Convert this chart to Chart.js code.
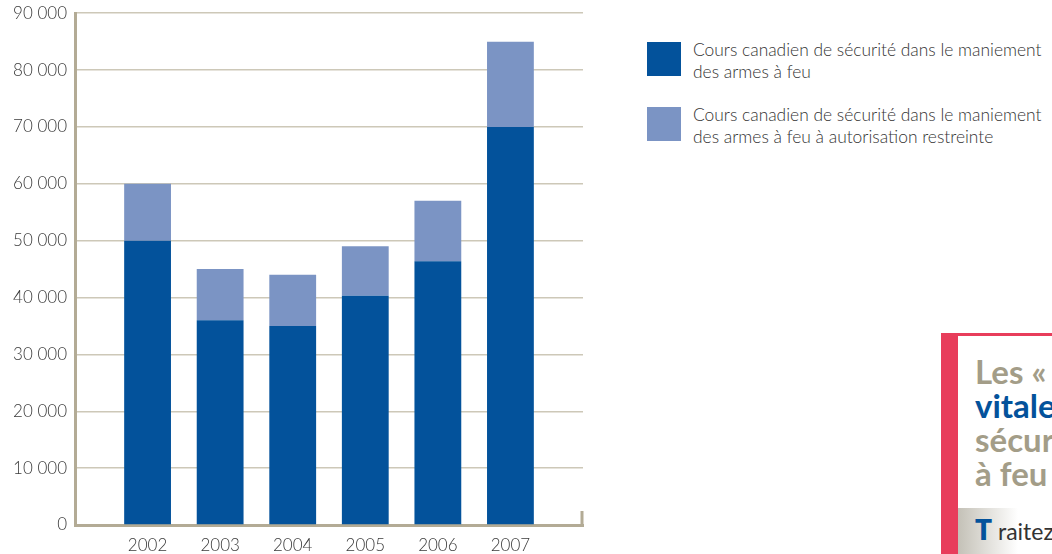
<!DOCTYPE html>
<html>
<head>
<meta charset="utf-8">
<script src="https://cdn.jsdelivr.net/npm/chart.js@4.4.1/dist/chart.umd.min.js"></script>
<style>
  body { margin: 0; background: #fff; width: 1052px; height: 554px; overflow: hidden; position: relative; font-family: "Lato", "Open Sans", sans-serif; }
  #wrap { position: absolute; left: 0; top: -5px; width: 600px; height: 559px; }
  .leg { position: absolute; left: 647px; font-size: 17.4px; font-weight: 300; color: #333; line-height: 22px; }
  .leg .sw { position: absolute; left: 0; top: 3px; width: 34px; height: 34px; }
  .leg .tx { position: absolute; left: 46px; top: 0; width: 420px; white-space: nowrap; }
  #box { position: absolute; left: 941px; top: 333px; width: 111px; height: 221px; border-left: 17px solid #e83d5b; border-top: 3px solid #e83d5b; background: #fff; overflow: hidden; box-sizing: border-box; }
  #box .head { position: absolute; left: 17px; top: 18px; font-size: 33px; line-height: 34px; font-weight: 700; color: #a39d88; white-space: nowrap; }
  #box .head .b { color: #03529b; }
  #box .strip { position: absolute; left: 0; top: 172px; width: 200px; height: 60px; background: linear-gradient(to right, #c4c1b7, #fff 60px); }
  #box .strip span { position: absolute; left: 17px; top: 4px; white-space: nowrap; font-size: 23px; color: #333; }
  #box .strip b { font-size: 28px; color: #03529b; font-weight: 800; }
</style>
</head>
<body>
<div id="wrap"><canvas id="chart" width="600" height="559"></canvas></div>
<div id="legend"></div>
<div id="box">
  <div class="head">Les « <br><span class="b">vitale</span><br>sécur<br>à feu</div>
  <div class="strip"><span><b>T</b> raitez</span></div>
</div>
<script>
// années et valeurs
var years = [2002, 2003, 2004, 2005, 2006, 2007];
var coursArmesFeu = [50000, 36000, 35000, 40300, 46400, 70000];
var coursRestreintes = [10000, 9000, 9000, 8700, 10600, 15000];
var seriesNames = [
    ["Cours canadien de sécurité dans le maniement", "des armes à feu"],
    ["Cours canadien de sécurité dans le maniement", "des armes à feu à autorisation restreinte"]
];
var seriesColors = ["#03529b", "#7b94c4"];
var yTicks = [0, 10000, 20000, 30000, 40000, 50000, 60000, 70000, 80000, 90000];

var gridColor = "#cdc8b8";
var axisColor = "#b3ab95";

function fmt(v) {
    return String(v).replace(/\B(?=(\d{3})+(?!\d))/g, " ");
}

// legende en html
var legendHtml = "";
for (var i = 0; i < seriesNames.length; i++) {
    legendHtml += '<div class="leg" style="top:' + (39 + i * 65) + 'px">' +
        '<div class="sw" style="background:' + seriesColors[i] + '"></div>' +
        '<div class="tx">' + seriesNames[i].join("<br>") + '</div></div>';
}
document.getElementById("legend").innerHTML = legendHtml;

// petit trait vertical au bout de l'axe x
var endTick = {
    id: "endTick",
    afterDraw: function(chart) {
        var ctx = chart.ctx, a = chart.chartArea;
        ctx.save();
        ctx.strokeStyle = axisColor;
        ctx.lineWidth = 3;
        ctx.beginPath();
        ctx.moveTo(a.right - 1, a.bottom);
        ctx.lineTo(a.right - 1, a.bottom - 14);
        ctx.stroke();
        ctx.restore();
    }
};

var ctx = document.getElementById("chart").getContext("2d");
new Chart(ctx, {
    type: "bar",
    data: {
        datasets: [{
            label: seriesNames[0].join(" "),
            data: years.map(function(y, i) { return { x: y, y: coursArmesFeu[i] }; }),
            backgroundColor: seriesColors[0]
        }, {
            label: seriesNames[1].join(" "),
            data: years.map(function(y, i) { return { x: y, y: coursRestreintes[i] }; }),
            backgroundColor: seriesColors[1]
        }]
    },
    options: {
        responsive: false,
        animation: false,
        layout: { padding: { top: 8, right: 17, left: 0, bottom: 0 } },
        plugins: { legend: { display: false }, tooltip: { enabled: false } },
        datasets: { bar: { barPercentage: 0.645, categoryPercentage: 1 } },
        scales: {
            x: {
                type: "linear",
                stacked: true,
                offset: false,
                min: years[0] - 1,
                max: years[years.length - 1] + 1,
                afterBuildTicks: function(scale) {
                    scale.ticks = years.map(function(y) { return { value: y }; });
                },
                afterFit: function(scale) { scale.height = 29; },
                grid: { display: false, drawTicks: false, offset: false },
                border: { display: true, color: axisColor, width: 3 },
                ticks: {
                    padding: 10,
                    color: "#3a3a3a",
                    font: { family: "Lato", size: 17, weight: 300 },
                    callback: function(v) { return String(v); }
                }
            },
            y: {
                stacked: true,
                min: 0,
                max: 90000,
                afterBuildTicks: function(scale) {
                    scale.ticks = yTicks.map(function(v) { return { value: v }; });
                },
                afterFit: function(scale) { scale.width = 75; },
                grid: { color: gridColor, lineWidth: 1.5, drawTicks: false },
                border: { display: true, color: axisColor, width: 3 },
                ticks: {
                    padding: 8,
                    color: "#3a3a3a",
                    font: { family: "Lato", size: 17, weight: 300 },
                    callback: function(v) { return fmt(v); }
                }
            }
        }
    },
    plugins: [endTick]
});
</script>
</body>
</html>
